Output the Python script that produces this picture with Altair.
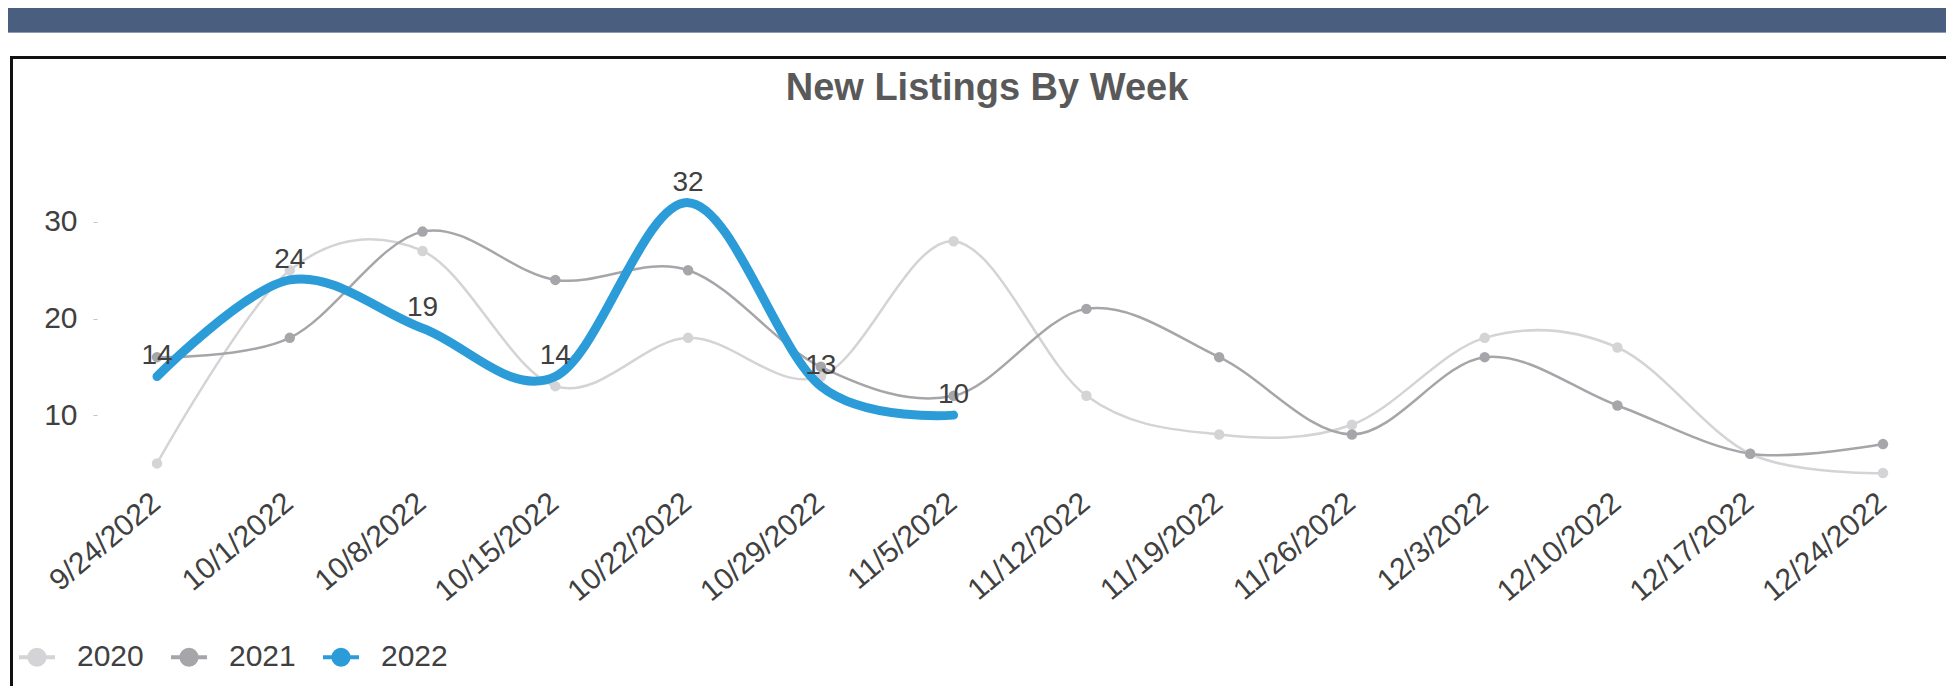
import altair as alt
import pandas as pd

weeks = ["9/24/2022", "10/1/2022", "10/8/2022", "10/15/2022", "10/22/2022",
         "10/29/2022", "11/5/2022", "11/12/2022", "11/19/2022", "11/26/2022",
         "12/3/2022", "12/10/2022", "12/17/2022", "12/24/2022"]
years = ["2020", "2021", "2022"]
v2020 = [5, 25, 27, 13, 18, 14, 28, 12, 8, 9, 18, 17, 6, 4]
v2021 = [16, 18, 29, 24, 25, 15, 12, 21, 16, 8, 16, 11, 6, 7]
v2022 = [14, 24, 19, 14, 32, 13, 10]
colors = ["#d4d4d6", "#a6a6aa", "#2b9cd8"]

rows = []
for yr, vals in zip(years, [v2020, v2021, v2022]):
    for i, v in enumerate(vals):
        rows.append({"week": weeks[i], "year": yr, "value": v, "order": i})
df = pd.DataFrame(rows)

FONT = "Liberation Sans"
TXT = "#404040"

# plot-area geometry (px)
W, H = 1846, 347.7
PAD_L, PAD_T = 89, 156

cscale = alt.Scale(domain=years, range=colors)
legend_path = ("M-1,0L1,0M-0.42,0A0.42,0.42,0,1,1,0.42,0"
               "A0.42,0.42,0,1,1,-0.42,0Z")
leg = alt.Legend(title=None, orient="none", legendX=-80, legendY=473,
                 direction="horizontal", symbolType=legend_path,
                 symbolSize=1296, symbolStrokeWidth=4, symbolOpacity=1,
                 labelFontSize=30, labelColor=TXT, labelFont=FONT,
                 labelOffset=20, columnPadding=19, padding=0)

x_enc = alt.X("week:O", sort=weeks,
              scale=alt.Scale(type="point", padding=0.452),
              axis=alt.Axis(title=None, domain=False, ticks=False,
                            labelAngle=320, labelAlign="right",
                            labelBaseline="middle", labelPadding=-13,
                            labelOffset=-1,
                            labelFontSize=30, labelFont=FONT,
                            labelColor=TXT, labelLimit=400))
y_enc = alt.Y("value:Q", scale=alt.Scale(domain=[0, 36], nice=False, zero=False),
              axis=alt.Axis(title=None, domain=False, grid=False,
                            values=[10, 20, 30], tickSize=4,
                            tickColor="#c4c4c4", tickWidth=1,
                            labelPadding=16, labelFontSize=30,
                            labelFont=FONT, labelColor=TXT))

base = alt.Chart(df)

lines_old = base.transform_filter(alt.datum.year != "2022").mark_line(
    interpolate="cardinal", strokeCap="round", strokeJoin="round",
    strokeWidth=2.5).encode(
    x=x_enc, y=y_enc,
    stroke=alt.Stroke("year:N", scale=cscale, legend=leg),
    order=alt.Order("order:Q"),
)

points = base.transform_filter(alt.datum.year != "2022").mark_circle(
    size=110, opacity=1).encode(
    x=x_enc, y=y_enc,
    fill=alt.Fill("year:N", scale=cscale, legend=leg),
)

line_new = base.transform_filter(alt.datum.year == "2022").mark_line(
    interpolate="cardinal", strokeCap="round", strokeJoin="round",
    strokeWidth=9).encode(
    x=x_enc, y=y_enc,
    stroke=alt.Stroke("year:N", scale=cscale, legend=leg),
    order=alt.Order("order:Q"),
)

labels = base.transform_filter(alt.datum.year == "2022").mark_text(
    baseline="alphabetic", dy=-12, fontSize=28, font=FONT, color=TXT
).encode(x=x_enc, y=y_enc, text="value:Q")

deco = alt.Chart(alt.Data(values=[{}]))
band = deco.mark_rect(color="#4a5f80").encode(
    x=alt.value(-PAD_L - 1), x2=alt.value(W + 20),
    y=alt.value(-PAD_T), y2=alt.value(32 - 8 - PAD_T))
band_edge = deco.mark_rect(color="#8b9bb5").encode(
    x=alt.value(-PAD_L - 1), x2=alt.value(W + 20),
    y=alt.value(32 - 8 - PAD_T), y2=alt.value(33 - 8 - PAD_T))
box_top = deco.mark_rect(color="#111111").encode(
    x=alt.value(10 - 8 - PAD_L), x2=alt.value(W + 20),
    y=alt.value(56 - 8 - PAD_T), y2=alt.value(59 - 8 - PAD_T))
box_left = deco.mark_rect(color="#111111").encode(
    x=alt.value(10 - 8 - PAD_L), x2=alt.value(13 - 8 - PAD_L),
    y=alt.value(56 - 8 - PAD_T), y2=alt.value(H + 300))

chart = alt.layer(band, band_edge, box_top, box_left,
                  lines_old, points, line_new, labels).properties(
    width=W, height=H, background="white",
    padding={"left": PAD_L, "top": PAD_T, "right": 3, "bottom": 174.3},
    autosize=alt.AutoSizeParams(type="none"),
    title=alt.TitleParams("New Listings By Week", font=FONT, fontSize=38,
                          fontWeight="bold", color="#595959", anchor="middle",
                          baseline="alphabetic", offset=0, dx=-33, dy=130),
).configure_view(strokeWidth=0, stroke="transparent")

chart.save("out.html", embed_options={"renderer": "svg", "actions": False})
